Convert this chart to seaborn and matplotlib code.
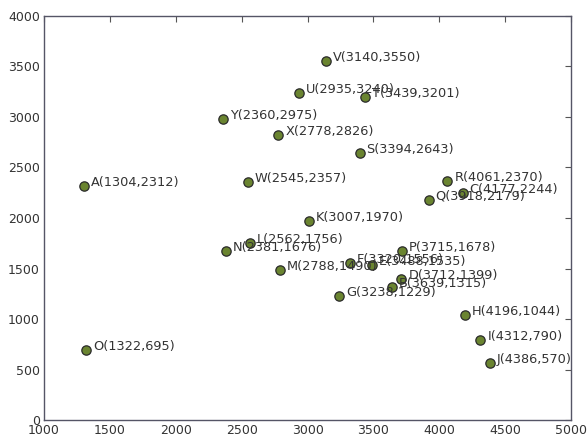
import matplotlib
matplotlib.use("Agg")
import matplotlib.pyplot as plt
import seaborn as sns
import pandas as pd

labels = list("ABCDEFGHIJKLMNOPQRSTUVWXY")
xs = [1304, 3639, 4177, 3712, 3488, 3320, 3238, 4196, 4312, 4386, 3007, 2562, 2788,
      2381, 1322, 3715, 3918, 4061, 3394, 3439, 2935, 3140, 2545, 2778, 2360]
ys = [2312, 1315, 2244, 1399, 1535, 1556, 1229, 1044, 790, 570, 1970, 1756, 1490,
      1676, 695, 1678, 2179, 2370, 2643, 3201, 3240, 3550, 2357, 2826, 2975]

x_ticks = [1000, 1500, 2000, 2500, 3000, 3500, 4000, 4500, 5000]
y_ticks = [0, 500, 1000, 1500, 2000, 2500, 3000, 3500, 4000]

df = pd.DataFrame({"label": labels, "x": xs, "y": ys})

sns.set_style("white")
plt.rcParams["font.family"] = ["DejaVu Sans"]

fig = plt.figure(figsize=(5.87, 4.4), dpi=100)
ax = fig.add_axes([0.075, 0.045, 0.898, 0.919])

sns.scatterplot(data=df, x="x", y="y", ax=ax, s=45, color="#6a8430",
                edgecolor="#2a2a2a", linewidth=0.9, zorder=3)

for _, row in df.iterrows():
    ax.annotate(f"{row['label']}({row['x']},{row['y']})", (row["x"], row["y"]),
                xytext=(5, 0), textcoords="offset points", fontsize=9.3,
                color="#333333", zorder=4)

ax.set_xlim(1000, 5000)
ax.set_ylim(0, 4000)
ax.set_xticks(x_ticks)
ax.set_yticks(y_ticks)
ax.set_xlabel("")
ax.set_ylabel("")
ax.tick_params(direction="in", length=4, width=0.8, color="#555555",
               labelsize=9, labelcolor="#333333", top=True, right=True, pad=3)
for sp in ax.spines.values():
    sp.set_visible(True)
    sp.set_color("#555566")
    sp.set_linewidth(1.0)

fig.savefig("out.png", dpi=100)
